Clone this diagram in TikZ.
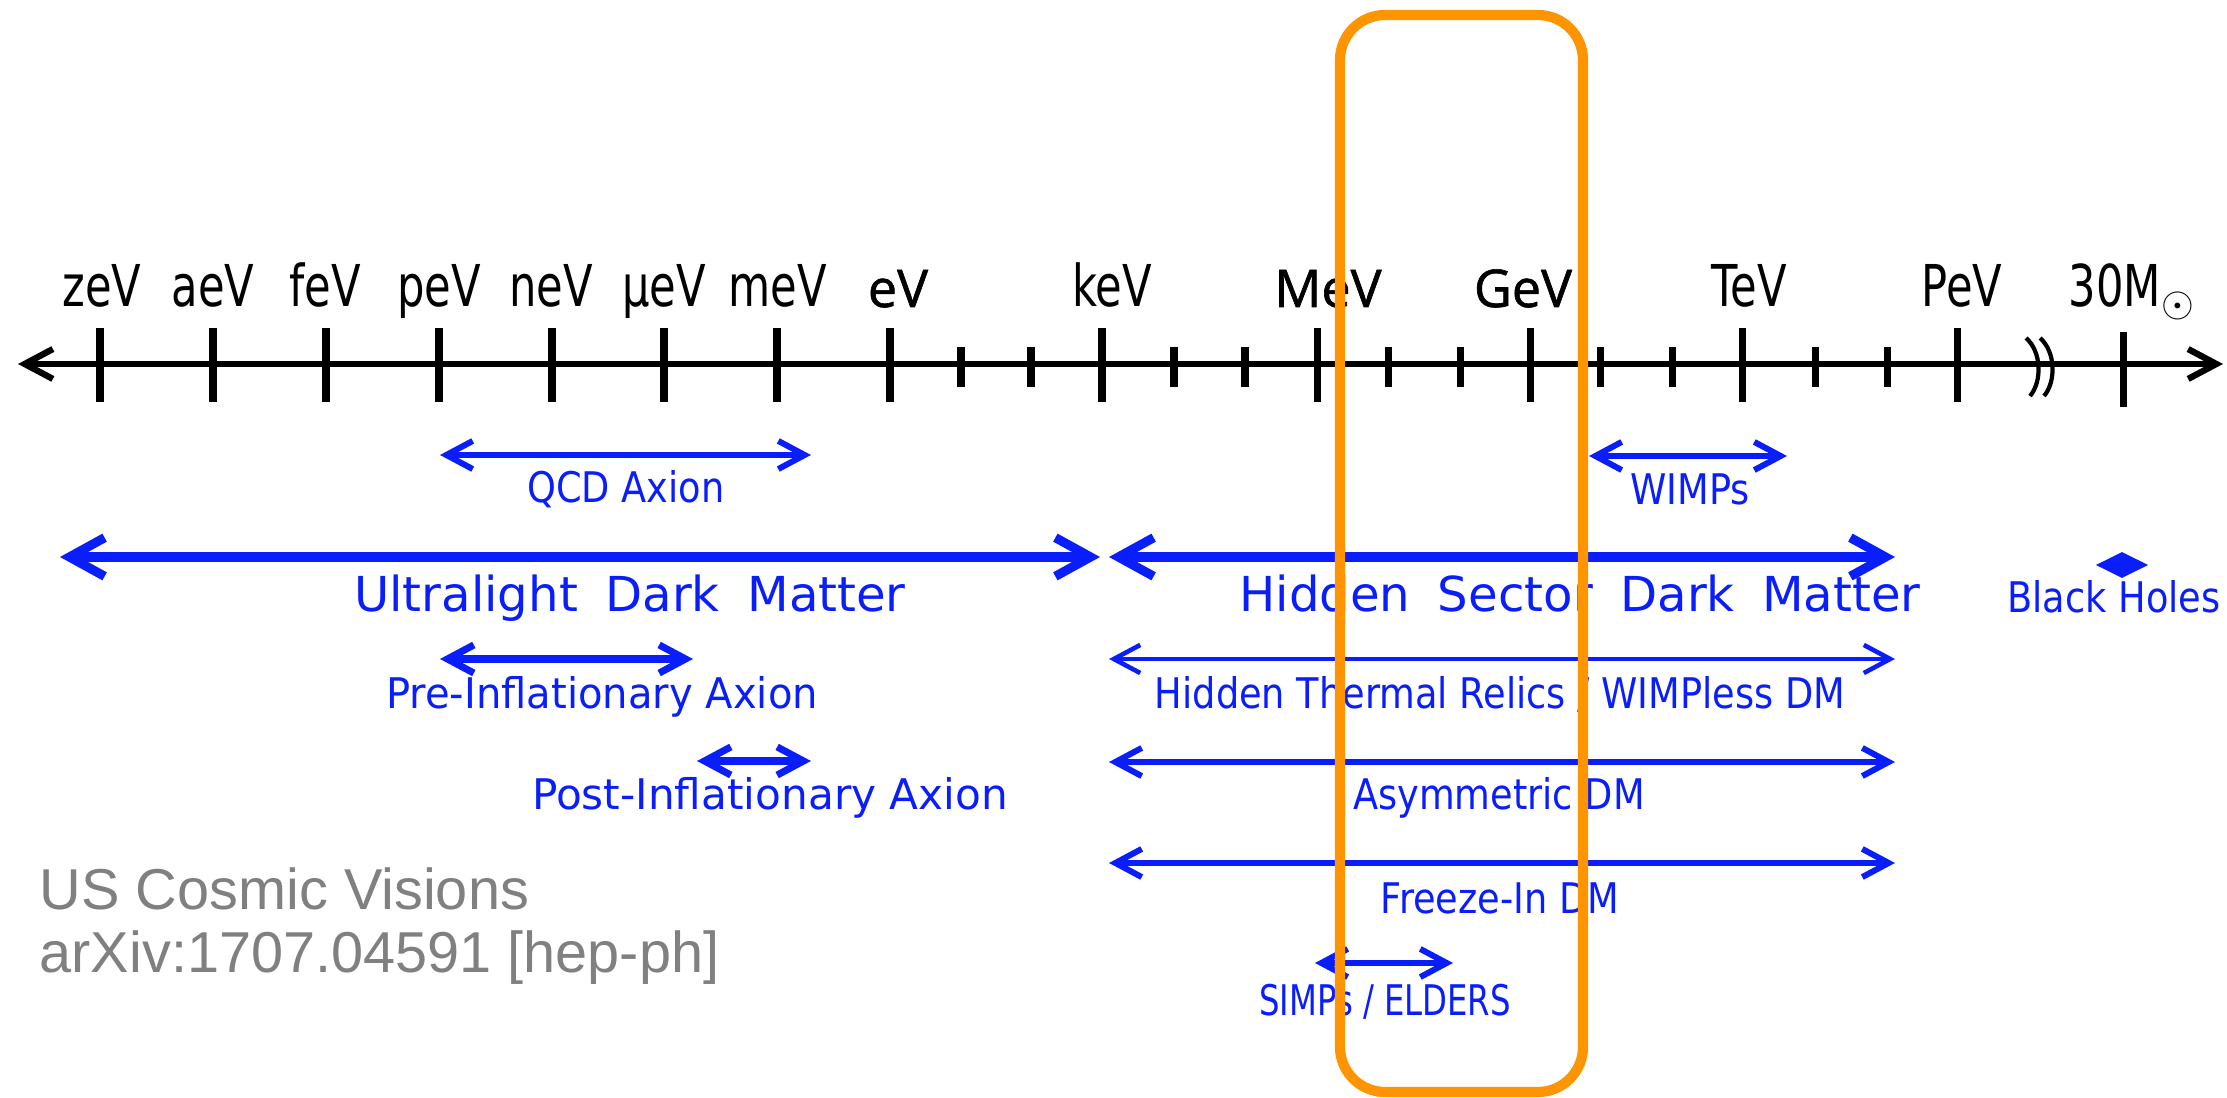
\documentclass[tikz,border=0pt]{standalone}
\usepackage{fontspec}
\setmainfont{DejaVu Sans}
\newfontfamily\axisfont[FakeStretch=0.75]{DejaVu Sans}
\newfontfamily\evfont[FakeBold=1.2]{Open Sans}
\newfontfamily\narrowfont[FakeStretch=0.87]{DejaVu Sans}
\newfontfamily\widefont[WordSpace=1.8]{DejaVu Sans}
\newfontfamily\notefont{Liberation Sans}
\usetikzlibrary{arrows.meta,shapes.geometric}
\definecolor{dmblue}{RGB}{10,30,252}
\definecolor{boxorange}{RGB}{253,148,0}
\definecolor{notegray}{RGB}{128,128,128}
\tikzset{
  axisline/.style={line width=1.8pt, arrows={Straight Barb[length=8pt,width=8.5pt]-Straight Barb[length=8pt,width=8.5pt]}},
  tickline/.style={line width=2pt},
  breakline/.style={line width=1.2pt},
  scalelabel/.style={anchor=base, inner sep=0pt, font=\axisfont\fontsize{16.4}{18}\selectfont},
  evlabel/.style={anchor=base, inner sep=0pt, font=\evfont\fontsize{14.8}{17}\selectfont},
  rangearrow/.style={dmblue, line width=1.7pt, arrows={Straight Barb[length=7.5pt,width=8pt]-Straight Barb[length=7.5pt,width=8pt]}},
  thinarrow/.style={rangearrow, line width=1.3pt},
  bigarrow/.style={dmblue, line width=2.6pt, arrows={Straight Barb[length=10pt,width=11pt]-Straight Barb[length=10pt,width=11pt]}},
  rangelabel/.style={anchor=base, inner sep=0pt, text=dmblue, font=\narrowfont\fontsize{12}{14}\selectfont},
  widelabel/.style={anchor=base, inner sep=0pt, text=dmblue, font=\widefont\fontsize{13.7}{16}\selectfont},
  bhmark/.style={diamond, fill=dmblue, aspect=2, inner sep=0pt, minimum width=15pt, minimum height=7.5pt},
  note/.style={anchor=base west, inner sep=0pt, text=notegray, font=\notefont\fontsize{16.4}{18}\selectfont},
  hlbox/.style={draw=boxorange, line width=2.9pt, rounded corners=0.45cm}
}
\begin{document}
\begin{tikzpicture}[x=0.01cm, y=-0.01cm]
    \useasboundingbox (0,0) rectangle (2227,1098);
    % energy axis
    \coordinate (axisL) at (18,364);
    \coordinate (axisR) at (2223,364);
    \draw[axisline] (axisL) -- (axisR);
    \foreach \x in {100,213,326,439,552,664,777,890,1102,1317,1530,1742,1957}
        \draw[tickline] (\x,328) -- (\x,402);
    \foreach \x in {961,1031,1174,1245,1388,1460,1600,1672,1815,1887}
        \draw[tickline] (\x,347) -- (\x,387);
    \draw[tickline] (2123,332) -- (2123,407);
    % axis break
    \draw[breakline] (2026,338) .. controls (2042,352) and (2042,382) .. (2030,396);
    \draw[breakline] (2040,338) .. controls (2056,352) and (2056,382) .. (2044,396);
    %
    \foreach \x/\name/\lab in {102/zev/zeV,213/aev/aeV,325/fev/feV,439/pev/peV,551/nev/neV,664/muev/μeV,778/mev/meV,1112/kev/keV,1749/tev/TeV,1962/petaev/PeV}
        \node[scalelabel] (\name) at (\x,307) {\lab};
    \node[evlabel] (ev) at (898,307) {eV};
    \node[evlabel] (megaev) at (1328,307) {MeV};
    \node[evlabel] (gev) at (1523,307) {GeV};
    \node[scalelabel, anchor=base west] (msun) at (2068,307) {30M$_{\odot}$};
    % light candidates
    \coordinate (qcdL) at (440,455);
    \coordinate (qcdR) at (811,455);
    \draw[rangearrow] (qcdL) -- (qcdR);
    \node[rangelabel] (qcd) at (626,503) {QCD Axion};
    %
    \coordinate (uldmL) at (60,557);
    \coordinate (uldmR) at (1100,557);
    \draw[bigarrow] (uldmL) -- (uldmR);
    \node[widelabel] (uldm) at (630,612) {Ultralight Dark Matter};
    %
    \coordinate (preL) at (440,659);
    \coordinate (preR) at (693,659);
    \draw[rangearrow, line width=2pt] (preL) -- (preR);
    \node[rangelabel, font=\fontsize{12}{14}\selectfont, xscale=0.95] (pre) at (602,709) {Pre-Inflationary Axion};
    %
    \coordinate (postL) at (697,761);
    \coordinate (postR) at (811,761);
    \draw[rangearrow, line width=2pt] (postL) -- (postR);
    \node[rangelabel, font=\fontsize{12}{14}\selectfont] (post) at (770,810) {Post-Inflationary Axion};
    % heavy candidates
    \coordinate (wimpL) at (1589,456);
    \coordinate (wimpR) at (1787,456);
    \draw[rangearrow] (wimpL) -- (wimpR);
    \node[rangelabel] (wimp) at (1690,505) {WIMPs};
    %
    \coordinate (hsdmL) at (1109,557);
    \coordinate (hsdmR) at (1895,557);
    \draw[bigarrow] (hsdmL) -- (hsdmR);
    \node[widelabel] (hsdm) at (1580,612) {Hidden Sector Dark Matter};
    %
    \coordinate (relicL) at (1109,659);
    \coordinate (relicR) at (1895,659);
    \draw[thinarrow] (relicL) -- (relicR);
    \node[rangelabel] (relic) at (1500,709) {Hidden Thermal Relics / WIMPless DM};
    %
    \coordinate (asymL) at (1109,762);
    \coordinate (asymR) at (1895,762);
    \draw[rangearrow] (asymL) -- (asymR);
    \node[rangelabel] (asym) at (1499,810) {Asymmetric DM};
    %
    \coordinate (freezeL) at (1109,863);
    \coordinate (freezeR) at (1895,863);
    \draw[rangearrow] (freezeL) -- (freezeR);
    \node[rangelabel] (freeze) at (1500,914) {Freeze-In DM};
    %
    \coordinate (simpL) at (1315,963);
    \coordinate (simpR) at (1453,963);
    \draw[rangearrow] (simpL) -- (simpR);
    \node[rangelabel, xscale=0.88] (simp) at (1385,1016) {SIMPs / ELDERS};
    %
    \node[bhmark] (bh) at (2122,565) {};
    \node[rangelabel] (bhtext) at (2114,613) {Black Holes};
    % source
    \node[note] (note1) at (39,910) {US Cosmic Visions};
    \node[note] (note2) at (39,973) {arXiv:1707.04591 [hep-ph]};
    % highlighted window
    \draw[hlbox] (1340,15) rectangle (1583,1092);
\end{tikzpicture}
\end{document}
